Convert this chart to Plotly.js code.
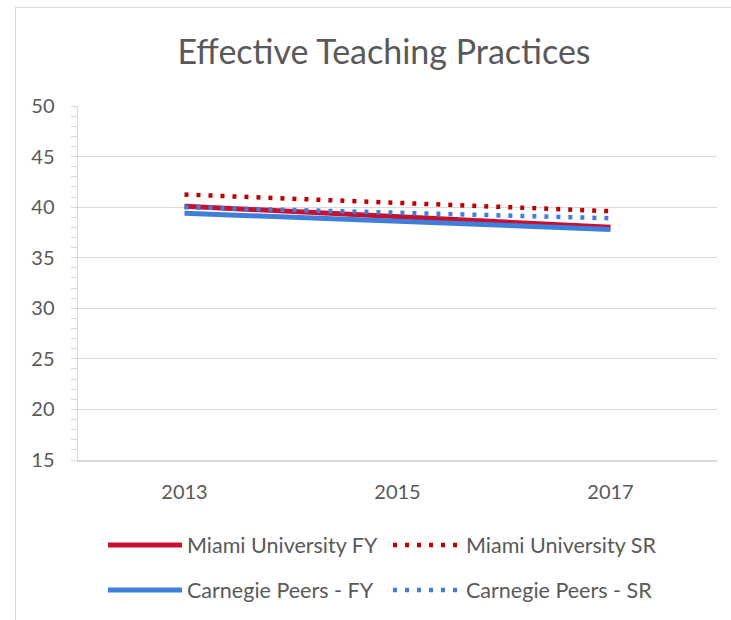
<!DOCTYPE html>
<html>
<head>
<meta charset="utf-8">
<script src="https://cdn.plot.ly/plotly-3.0.1.min.js"></script>
<style>
  html, body { margin: 0; padding: 0; background: #fff; overflow: hidden; }
  #wrap { position: relative; width: 731px; height: 620px; }
  #chart { width: 731px; height: 620px; }
  #frame { position: absolute; left: 15px; top: 7px; width: 800px; height: 700px;
           border: 1px solid #D9D9D9; pointer-events: none; box-sizing: border-box; }
</style>
</head>
<body>
<div id="wrap">
  <div id="chart"></div>
  <div id="frame"></div>
</div>
<script>
const years = ['2013', '2015', '2017'];
const miamiFY = [40.1, 39.0, 38.0];
const miamiSR = [41.25, 40.4, 39.6];
const carnegieFY = [39.4, 38.6, 37.8];
const carnegieSR = [40.0, 39.5, 38.9];
const yTicks = [15, 20, 25, 30, 35, 40, 45, 50];

const red = '#C8102E', redDot = '#C00000', blue = '#3F7FDB';
const FONT = 'Lato, "Open Sans", sans-serif';

const traces = [
  { x: years, y: miamiFY, name: 'Miami University FY', mode: 'lines',
    line: { color: red, width: 5 }, legend: 'legend' },
  { x: years, y: miamiSR, name: 'Miami University SR', mode: 'lines',
    line: { color: redDot, width: 4.5, dash: '4px,8px' }, legend: 'legend2' },
  { x: years, y: carnegieFY, name: 'Carnegie Peers - FY', mode: 'lines',
    line: { color: blue, width: 5 }, legend: 'legend3' },
  { x: years, y: carnegieSR, name: 'Carnegie Peers - SR', mode: 'lines',
    line: { color: blue, width: 4.5, dash: '4px,8px' }, legend: 'legend4' }
];

function leg(xpx, ypx, w) {
  return {
    orientation: 'h', xref: 'container', yref: 'container',
    x: xpx / 731, xanchor: 'left', y: (620 - ypx) / 620, yanchor: 'middle',
    font: { family: FONT, size: 21.5, color: '#595959' },
    itemwidth: w, bgcolor: 'rgba(0,0,0,0)', borderwidth: 0
  };
}

const layout = {
  width: 731, height: 620,
  margin: { l: 78, r: 14, t: 106, b: 160 },
  paper_bgcolor: '#fff', plot_bgcolor: '#fff',
  font: { family: FONT, color: '#595959' },
  title: { text: 'Effective Teaching Practices', xref: 'container', yref: 'container',
           x: 384 / 731, xanchor: 'center', y: 1 - 52 / 620, yanchor: 'middle',
           font: { family: FONT, size: 34, color: '#595959' } },
  xaxis: { type: 'category', range: [-0.5, 2.5], showgrid: false, zeroline: false,
           showline: true, linecolor: '#D9D9D9', linewidth: 1.5, ticks: '',
           tickfont: { family: FONT, size: 20, color: '#595959' }, ticklabelstandoff: 13 },
  yaxis: { range: [15, 50], tickvals: yTicks, showgrid: true, gridcolor: '#D9D9D9', gridwidth: 1,
           zeroline: false, showline: true, linecolor: '#D9D9D9', linewidth: 1.5,
           ticks: 'outside', ticklen: 6, tickcolor: '#D9D9D9',
           minor: { dtick: 1, ticks: 'outside', ticklen: 6, tickcolor: '#D9D9D9', showgrid: false },
           tickfont: { family: FONT, size: 20, color: '#595959' }, ticklabelstandoff: 12 },
  legend: leg(103, 545, 74),
  legend2: leg(388, 545, 68),
  legend3: leg(103, 590, 74),
  legend4: leg(388, 590, 68),
  showlegend: true
};

Plotly.newPlot('chart', traces, layout, { displayModeBar: false, staticPlot: true });
</script>
</body>
</html>
